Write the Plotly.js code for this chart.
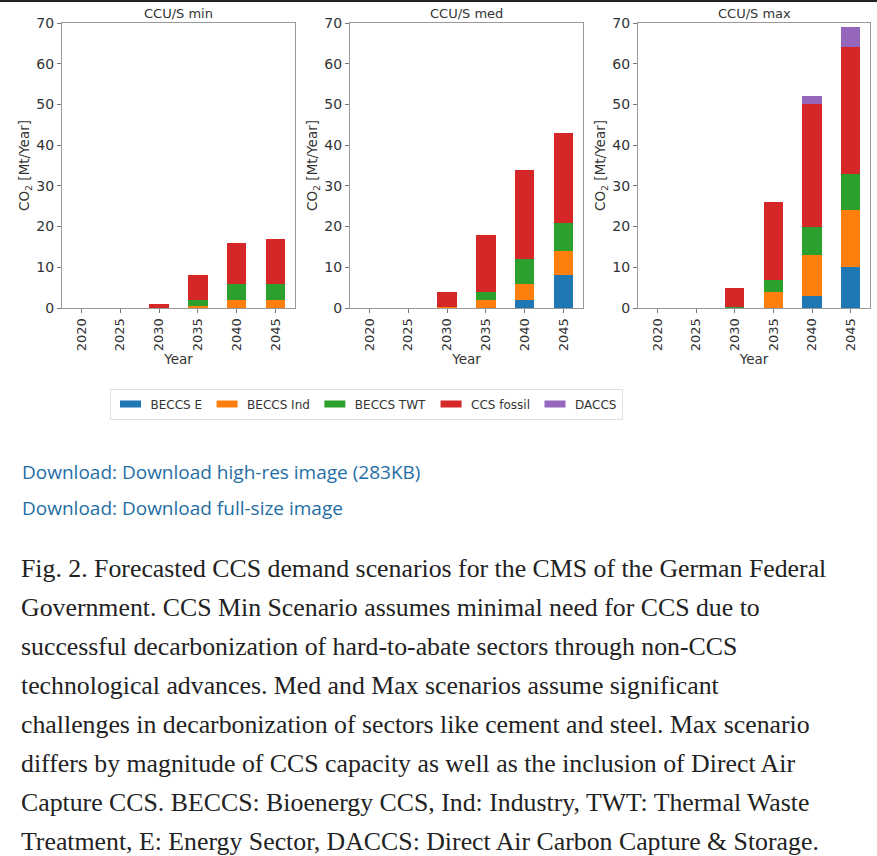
<!DOCTYPE html>
<html>
<head>
<meta charset="utf-8">
<script src="https://cdn.plot.ly/plotly-3.0.1.min.js"></script>
<style>
html,body{margin:0;padding:0;background:#fff;}
#chart{width:877px;height:856px;}
</style>
</head>
<body>
<div id="chart"></div>
<script>
// ---- data ----
const years = ['2020', '2025', '2030', '2035', '2040', '2045'];
const seriesNames = ['BECCS E', 'BECCS Ind', 'BECCS TWT', 'CCS fossil', 'DACCS'];
const panelTitles = ['CCU/S min', 'CCU/S med', 'CCU/S max'];

// CCU/S min
const minBeccsE   = [0, 0, 0,   0,   0,  0];
const minBeccsInd = [0, 0, 0,   0.5, 2,  2];
const minBeccsTwt = [0, 0, 0,   1.5, 4,  4];
const minCcsFossil= [0, 0, 1,   6,   10, 11];
const minDaccs    = [0, 0, 0,   0,   0,  0];

// CCU/S med
const medBeccsE   = [0, 0, 0,   0,  2,  8];
const medBeccsInd = [0, 0, 0.3, 2,  4,  6];
const medBeccsTwt = [0, 0, 0,   2,  6,  7];
const medCcsFossil= [0, 0, 3.7, 14, 22, 22];
const medDaccs    = [0, 0, 0,   0,  0,  0];

// CCU/S max
const maxBeccsE   = [0, 0, 0,   0,  3,  10];
const maxBeccsInd = [0, 0, 0,   4,  10, 14];
const maxBeccsTwt = [0, 0, 0.3, 3,  7,  9];
const maxCcsFossil= [0, 0, 4.7, 19, 30, 31];
const maxDaccs    = [0, 0, 0,   0,  2,  5];

const yTickVals = [0, 10, 20, 30, 40, 50, 60, 70];

const downloadLines = [
  'Download: Download high-res image (283KB)',
  'Download: Download full-size image'
];
const captionLines = [
  'Fig. 2. Forecasted CCS demand scenarios for the CMS of the German Federal',
  'Government. CCS Min Scenario assumes minimal need for CCS due to',
  'successful decarbonization of hard-to-abate sectors through non-CCS',
  'technological advances. Med and Max scenarios assume significant',
  'challenges in decarbonization of sectors like cement and steel. Max scenario',
  'differs by magnitude of CCS capacity as well as the inclusion of Direct Air',
  'Capture CCS. BECCS: Bioenergy CCS, Ind: Industry, TWT: Thermal Waste',
  'Treatment, E: Energy Sector, DACCS: Direct Air Carbon Capture &amp; Storage.'
];

// ---- styling ----
const colors = ['#1f77b4', '#ff7f0e', '#2ca02c', '#d62728', '#9467bd'];
const W = 877, H = 856;
const px = v => v / W;
const py = v => 1 - v / H;

const panels = [
  [minBeccsE, minBeccsInd, minBeccsTwt, minCcsFossil, minDaccs],
  [medBeccsE, medBeccsInd, medBeccsTwt, medCcsFossil, medDaccs],
  [maxBeccsE, maxBeccsInd, maxBeccsTwt, maxCcsFossil, maxDaccs]
];
const xDomains = [[px(62), px(295)], [px(350), px(583)], [px(638), px(870)]];
const yDomain = [py(308), py(23)];

const traces = [];
panels.forEach((panel, p) => {
  panel.forEach((vals, s) => {
    traces.push({
      type: 'bar',
      x: years,
      y: vals,
      name: seriesNames[s],
      marker: {color: colors[s], line: {width: 0}},
      xaxis: p === 0 ? 'x' : 'x' + (p + 1),
      yaxis: p === 0 ? 'y' : 'y' + (p + 1),
      legendgroup: seriesNames[s],
      showlegend: p === 0,
      hoverinfo: 'x+y+name'
    });
  });
});

const tickFontY = {family: 'DejaVu Sans, sans-serif', size: 14, color: '#333'};
const tickFontX = {family: 'DejaVu Sans, sans-serif', size: 13, color: '#333'};
const titleFont = {family: 'DejaVu Sans, sans-serif', size: 13.5, color: '#333'};
const layout = {
  width: W, height: H,
  margin: {l: 0, r: 0, t: 0, b: 0},
  paper_bgcolor: '#fff',
  plot_bgcolor: '#fff',
  barmode: 'stack',
  bargap: 0.5,
  showlegend: true,
  legend: {
    orientation: 'h',
    x: px(366), xanchor: 'center',
    y: py(404), yanchor: 'middle',
    bgcolor: '#fff',
    bordercolor: '#e0e0e0',
    borderwidth: 1,
    font: {family: 'DejaVu Sans, sans-serif', size: 12, color: '#333'},
    traceorder: 'normal',
    itemclick: false
  },
  annotations: [],
  shapes: [{
    type: 'rect', xref: 'paper', yref: 'paper',
    x0: 0, x1: 1, y0: py(2), y1: 1,
    fillcolor: '#222', line: {width: 0}
  }]
};

for (let p = 0; p < 3; p++) {
  const sx = p === 0 ? '' : String(p + 1);
  layout['xaxis' + sx] = {
    domain: xDomains[p],
    anchor: 'y' + sx,
    type: 'category',
    range: [-0.5, 5.5],
    tickangle: -90,
    tickfont: tickFontX,
    ticks: 'outside', ticklen: 4, tickcolor: '#777',
    showline: true, mirror: true, linecolor: '#999', linewidth: 1,
    showgrid: false, zeroline: false,
    title: {text: 'Year', font: titleFont, standoff: 1},
    fixedrange: true
  };
  layout['yaxis' + sx] = {
    domain: yDomain,
    anchor: 'x' + sx,
    range: [0, 70],
    tickvals: yTickVals,
    tickfont: tickFontY,
    ticks: 'outside', ticklen: 4, tickcolor: '#777',
    showline: true, mirror: true, linecolor: '#999', linewidth: 1,
    showgrid: false, zeroline: false,
    title: {text: 'CO<sub>2</sub> [Mt/Year]', font: titleFont, standoff: 3},
    fixedrange: true
  };
  layout.annotations.push({
    text: panelTitles[p],
    xref: 'paper', yref: 'paper',
    x: (xDomains[p][0] + xDomains[p][1]) / 2, xanchor: 'center',
    y: py(13), yanchor: 'middle',
    showarrow: false,
    font: {family: 'DejaVu Sans, sans-serif', size: 13, color: '#333'}
  });
}

downloadLines.forEach((t, i) => {
  layout.annotations.push({
    text: t,
    xref: 'paper', yref: 'paper',
    x: px(20), xanchor: 'left',
    y: py(472 + i * 36), yanchor: 'middle',
    showarrow: false,
    font: {family: 'Open Sans, sans-serif', size: 19, color: '#1f6ea5'}
  });
});

captionLines.forEach((t, i) => {
  layout.annotations.push({
    text: t,
    xref: 'paper', yref: 'paper',
    x: px(19), xanchor: 'left',
    y: py(568 + i * 39.1), yanchor: 'middle',
    showarrow: false,
    align: 'left',
    font: {family: 'Liberation Serif, serif', size: 25.8, color: '#222'}
  });
});

Plotly.newPlot('chart', traces, layout, {displayModeBar: false, staticPlot: true}).then(gd => {
  // widen the legend swatches to resemble the reference's flat patches
  gd.querySelectorAll('.legend .legendpoints path').forEach(p => {
    p.setAttribute('d', 'M10.5,3.5H-10.5V-3.5H10.5Z');
  });
});
</script>
</body>
</html>
